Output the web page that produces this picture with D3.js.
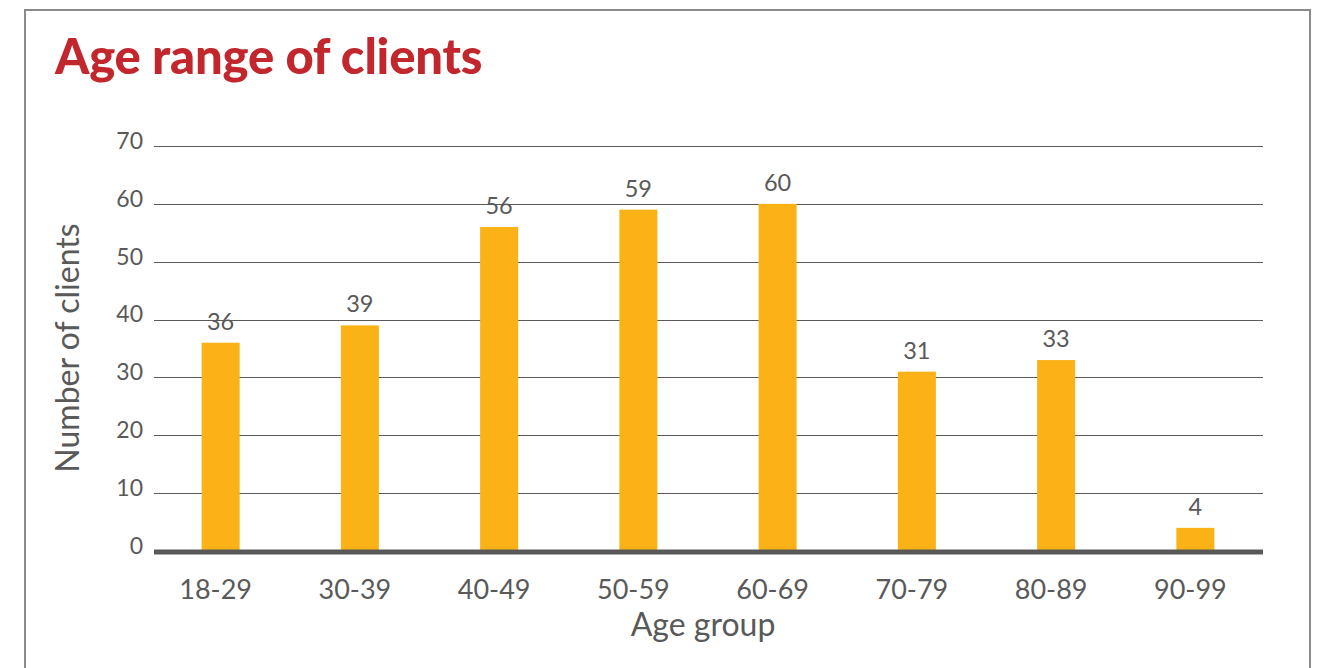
<!DOCTYPE html>
<html>
<head>
<meta charset="utf-8">
<script src="https://cdn.jsdelivr.net/npm/d3@7/dist/d3.min.js"></script>
<style>
  html, body { margin: 0; padding: 0; background: #ffffff; }
  svg { display: block; font-family: Lato, "Open Sans", sans-serif; }
</style>
</head>
<body>
<svg id="chart" width="1326" height="668"></svg>
<script>
// Age groups and client counts
const ageGroups = ["18-29", "30-39", "40-49", "50-59", "60-69", "70-79", "80-89", "90-99"];
const clientCounts = [36, 39, 56, 59, 60, 31, 33, 4];
const yTicks = [0, 10, 20, 30, 40, 50, 60, 70];

const svg = d3.select("#chart");

// outer frame
svg.append("rect")
  .attr("x", 25).attr("y", 10)
  .attr("width", 1285).attr("height", 700)
  .attr("fill", "none")
  .attr("stroke", "#8a8a8a")
  .attr("stroke-width", 2);

// title
svg.append("text")
  .attr("x", 55).attr("y", 74)
  .attr("fill", "#c1272d")
  .attr("font-size", 49)
  .attr("font-weight", 900)
  .attr("letter-spacing", -0.2)
  .text("Age range of clients");

const plot = { left: 154, right: 1263, top: 146, bottom: 551 };

const x = d3.scaleBand()
  .domain(ageGroups)
  .range([151, 1265])
  .paddingInner(0.727)
  .paddingOuter(0.3635);

const y = d3.scaleLinear()
  .domain([0, 70])
  .range([plot.bottom, plot.top]);

// gridlines
svg.append("g")
  .selectAll("line")
  .data(yTicks.filter(t => t > 0))
  .join("line")
  .attr("x1", plot.left).attr("x2", plot.right)
  .attr("y1", d => Math.round(y(d)) + 0.5)
  .attr("y2", d => Math.round(y(d)) + 0.5)
  .attr("stroke", "#5a5a5a")
  .attr("stroke-width", 1);

// y axis tick labels
const yAxis = d3.axisLeft(y).tickValues(yTicks).tickSize(0).tickPadding(0);
const gy = svg.append("g")
  .attr("transform", `translate(${plot.left - 11},0)`)
  .call(yAxis);
gy.select(".domain").remove();
gy.selectAll("text")
  .attr("fill", "#595959")
  .attr("font-size", 23)
  .attr("font-family", "Lato, sans-serif")
  .attr("dy", "0.1em");

// bars
svg.append("g")
  .selectAll("rect")
  .data(ageGroups)
  .join("rect")
  .attr("x", d => x(d))
  .attr("width", x.bandwidth())
  .attr("y", (d, i) => y(clientCounts[i]))
  .attr("height", (d, i) => y(0) - y(clientCounts[i]))
  .attr("fill", "#fbb216");

// value labels
svg.append("g")
  .selectAll("text")
  .data(ageGroups)
  .join("text")
  .attr("x", d => x(d) + x.bandwidth() / 2)
  .attr("y", (d, i) => y(clientCounts[i]) - 13)
  .attr("text-anchor", "middle")
  .attr("fill", "#595959")
  .attr("font-size", 23.5)
  .text((d, i) => clientCounts[i]);

// baseline
svg.append("line")
  .attr("x1", plot.left).attr("x2", plot.right)
  .attr("y1", plot.bottom + 1).attr("y2", plot.bottom + 1)
  .attr("stroke", "#595959")
  .attr("stroke-width", 5);

// x axis labels
const xAxis = d3.axisBottom(x).tickSize(0).tickPadding(0);
const gx = svg.append("g")
  .attr("transform", `translate(-5,${plot.bottom + 48})`)
  .call(xAxis);
gx.select(".domain").remove();
gx.selectAll("text")
  .attr("fill", "#595959")
  .attr("font-size", 27)
  .attr("font-family", "Lato, sans-serif")
  .attr("dy", 0);

// axis titles
svg.append("text")
  .attr("x", 703).attr("y", 636)
  .attr("text-anchor", "middle")
  .attr("fill", "#595959")
  .attr("font-size", 32)
  .text("Age group");

svg.append("text")
  .attr("transform", "translate(79,348) rotate(-90)")
  .attr("text-anchor", "middle")
  .attr("fill", "#595959")
  .attr("font-size", 32)
  .text("Number of clients");
</script>
</body>
</html>
